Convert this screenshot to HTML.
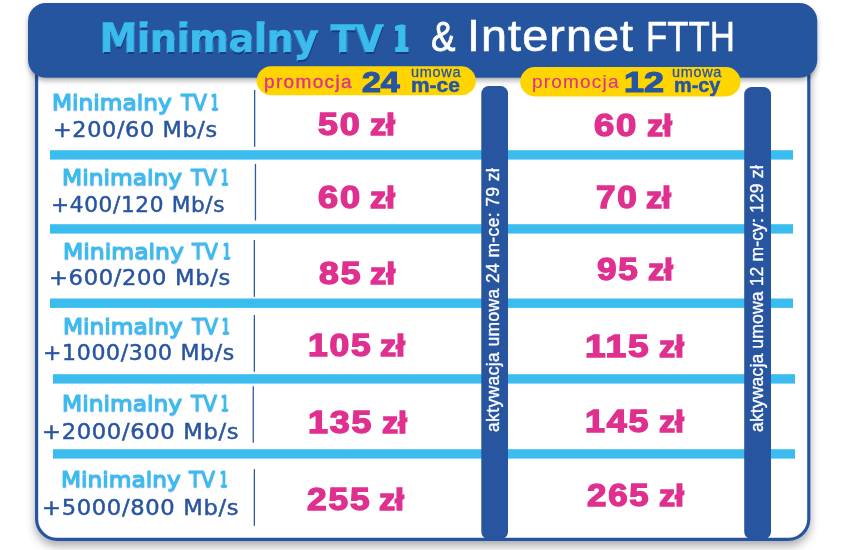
<!DOCTYPE html>
<html lang="pl">
<head>
<meta charset="utf-8">
<title>Minimalny TV 1 &amp; Internet FTTH</title>
<style>
*{margin:0;padding:0;box-sizing:border-box}
html,body{width:850px;height:550px;overflow:hidden;background:#fff}
body{position:relative;font-family:"Liberation Sans","DejaVu Sans",sans-serif}
.abs{position:absolute;display:block}
h1,b{font:inherit}
#bg{left:0;top:0;width:850px;height:550px;display:block}
.t{white-space:nowrap;line-height:1;transform-origin:0 0}
.t1{font-family:"DejaVu Sans","Liberation Sans",sans-serif;font-weight:bold;color:#3bbcee;text-shadow:0.5px 2px 0 #1c3b7a;-webkit-text-stroke:1.5px #3bbcee;paint-order:stroke fill}
.t2{color:#fff}
.pm{color:#e0308f}
.pn,.pu,.pb{color:#2855a0}
.pn{font-weight:bold;-webkit-text-stroke:1.2px #2855a0}
.pu{-webkit-text-stroke:.3px #2855a0}
.pb{font-weight:bold;-webkit-text-stroke:.5px #2855a0}
.l1{font-family:"DejaVu Sans","Liberation Sans",sans-serif;color:#3bbcee;-webkit-text-stroke:1.1px #3bbcee;text-shadow:0 .5px 1.5px rgba(120,90,210,.7)}
.l2{font-family:"DejaVu Sans","Liberation Sans",sans-serif;color:#2855a0;-webkit-text-stroke:.45px #2855a0}
.p{color:#e0308f;font-weight:bold;-webkit-text-stroke:1.4px #e0308f}
.vt{color:#fff;-webkit-text-stroke:.35px #fff}
</style>
</head>
<body>
<svg id="bg" class="abs" width="850" height="550" viewBox="0 0 850 550">
<defs><filter id="sh" x="-5%" y="-5%" width="110%" height="115%"><feDropShadow dx="0" dy="5" stdDeviation="5" flood-color="#000" flood-opacity=".33"/></filter><filter id="sh2" x="-5%" y="-20%" width="110%" height="160%"><feDropShadow dx="0" dy="3" stdDeviation="2.6" flood-color="#000" flood-opacity=".3"/></filter></defs>
<path filter="url(#sh)" fill="#fff" stroke="#2855a0" stroke-width="3.2" d="M36.6 40.0 V519.0 A20.4 20.4 0 0 0 57.0 539.4 H788.4 A20.4 20.4 0 0 0 808.8 519.0 V40.0 Z"/>
<rect x="28" y="3" width="789.3" height="74.8" rx="18" ry="18" fill="#2855a0" filter="url(#sh2)"/>
<rect x="256.7" y="66.35" width="219.1" height="28.95" rx="14.5" ry="14.5" fill="#ffd500" />
<rect x="520.2" y="67.1" width="220.3" height="29.3" rx="14.6" ry="14.6" fill="#ffd500" />
<rect x="50" y="150.2" width="743" height="9.4" rx="0" ry="0" fill="#3bbcee" />
<rect x="50" y="224.2" width="743" height="9.4" rx="0" ry="0" fill="#3bbcee" />
<rect x="50" y="298.5" width="743" height="9.4" rx="0" ry="0" fill="#3bbcee" />
<rect x="53" y="374.2" width="742" height="9.4" rx="0" ry="0" fill="#3bbcee" />
<rect x="53" y="449.2" width="742" height="9.4" rx="0" ry="0" fill="#3bbcee" />
<rect x="481.3" y="86" width="26.7" height="453.2" rx="7.5" ry="7.5" fill="#2855a0" />
<rect x="744.2" y="87" width="26.8" height="452.2" rx="7.5" ry="7.5" fill="#2855a0" />
<rect x="254.0" y="90" width="1.3" height="56.8" rx="0" ry="0" fill="#2f5aa4" />
<rect x="254.8" y="163.9" width="1.3" height="56.6" rx="0" ry="0" fill="#2f5aa4" />
<rect x="253.7" y="240" width="1.3" height="56.8" rx="0" ry="0" fill="#2f5aa4" />
<rect x="253.7" y="315" width="1.3" height="56.7" rx="0" ry="0" fill="#2f5aa4" />
<rect x="252.6" y="386.2" width="1.3" height="56.5" rx="0" ry="0" fill="#2f5aa4" />
<rect x="253.7" y="469.1" width="1.3" height="56.7" rx="0" ry="0" fill="#2f5aa4" />
</svg>
<h1 class="g"><span class="abs t t1" style="left:100.1px;top:19px;font-size:39px;transform:scaleX(0.9624);">Minimalny</span> <span class="abs t t1" style="left:330.95px;top:20px;font-size:38px;transform:scaleX(0.9454);">TV</span> <span class="abs t t1" style="left:395.0px;top:21px;font-size:37.5px;transform:scaleX(0.4913);-webkit-text-stroke-width:1px;text-shadow:-2px 0 #3bbcee,2px 0 #3bbcee,-4px 0 #3bbcee,4px 0 #3bbcee,-3.5px 2px 0 #1c3b7a,.5px 2px 0 #1c3b7a,4.5px 2px 0 #1c3b7a;">1</span> <span class="abs t t2" style="left:430.75px;top:15px;font-size:43px;transform:scaleX(0.8521);-webkit-text-stroke:.8px #fff;">&amp;</span> <span class="abs t t2" style="left:467.04px;top:15px;font-size:43.5px;transform:scaleX(1.0743);letter-spacing:1.0px;-webkit-text-stroke:.6px #fff;">Internet</span> <span class="abs t t2" style="left:645.87px;top:15px;font-size:43px;transform:scaleX(0.8106);-webkit-text-stroke:.5px #fff;">FTTH</span></h1>
<div class="g"><span class="abs t pm" style="left:264.4px;top:72px;font-size:19px;transform:scaleX(1.0001);letter-spacing:1.35px;-webkit-text-stroke:.4px #e0308f;">promocja</span> <span class="abs t pn" style="left:362.0px;top:68px;font-size:29px;transform:scaleX(1.1687);">24</span> <span class="abs t pu" style="left:410.88px;top:65px;font-size:14.5px;transform:scaleX(0.9989);letter-spacing:0.7px;">umowa</span> <span class="abs t pb" style="left:410.97px;top:75px;font-size:20.5px;transform:scaleX(1.0199);">m-ce</span></div>
<div class="g"><span class="abs t pm" style="left:532.21px;top:72px;font-size:19px;transform:scaleX(0.999);letter-spacing:1.2px;-webkit-text-stroke:.15px #e0308f;">promocja</span> <span class="abs t pn" style="left:624.02px;top:68px;font-size:29px;transform:scaleX(1.2369);">12</span> <span class="abs t pu" style="left:672.27px;top:65px;font-size:14.5px;transform:scaleX(0.997);letter-spacing:0.7px;">umowa</span> <span class="abs t pb" style="left:674.42px;top:75px;font-size:20.5px;transform:scaleX(0.9698);">m-cy</span></div>
<div class="g row"><span class="g"><span class="abs t l1" style="left:52.39px;top:92px;font-size:22px;transform:scaleX(1.0584);">Minimalny</span> <span class="abs t l1" style="left:181.11px;top:92px;font-size:22px;transform:scaleX(0.9077);">TV</span> <span class="abs t l1" style="left:211.29px;top:92px;font-size:22px;transform:scaleX(0.5348);-webkit-text-stroke-width:.9px;text-shadow:-1.5px 0 #3bbcee,1.5px 0 #3bbcee,0 .5px 1.5px rgba(120,90,210,.7);">1</span></span> <span class="abs t l2" style="left:53.07px;top:120px;font-size:20.5px;transform:scaleX(1.0887);letter-spacing:0.6px;">+200/60 Mb/s</span> <b class="g"><span class="abs t p" style="left:317.8px;top:109px;font-size:31px;transform:scaleX(1.1573);letter-spacing:1.6px;">50</span> <span class="abs t p" style="left:369.6px;top:110px;font-size:30px;transform:scaleX(1.0745);">zł</span></b> <b class="g"><span class="abs t p" style="left:594.21px;top:110px;font-size:31px;transform:scaleX(1.1734);letter-spacing:1.6px;">60</span> <span class="abs t p" style="left:646.6px;top:111px;font-size:30px;transform:scaleX(1.0745);">zł</span></b></div>
<div class="g row"><span class="g"><span class="abs t l1" style="left:62.16px;top:167px;font-size:22px;transform:scaleX(1.0614);">Minimalny</span> <span class="abs t l1" style="left:190.87px;top:167px;font-size:22px;transform:scaleX(0.909);">TV</span> <span class="abs t l1" style="left:221.38px;top:167px;font-size:22px;transform:scaleX(0.5374);-webkit-text-stroke-width:.9px;text-shadow:-1.5px 0 #3bbcee,1.5px 0 #3bbcee,0 .5px 1.5px rgba(120,90,210,.7);">1</span></span> <span class="abs t l2" style="left:50.54px;top:195px;font-size:20.5px;transform:scaleX(1.0561);letter-spacing:0.6px;">+400/120 Mb/s</span> <b class="g"><span class="abs t p" style="left:317.79px;top:182px;font-size:31px;transform:scaleX(1.165);letter-spacing:1.6px;">60</span> <span class="abs t p" style="left:369.6px;top:183px;font-size:30px;transform:scaleX(1.0745);">zł</span></b> <b class="g"><span class="abs t p" style="left:596.13px;top:182px;font-size:31px;transform:scaleX(1.1318);letter-spacing:1.6px;">70</span> <span class="abs t p" style="left:646.4px;top:183px;font-size:30px;transform:scaleX(1.0745);">zł</span></b></div>
<div class="g row"><span class="g"><span class="abs t l1" style="left:62.94px;top:241px;font-size:22px;transform:scaleX(1.0685);">Minimalny</span> <span class="abs t l1" style="left:192.0px;top:241px;font-size:22px;transform:scaleX(0.9057);">TV</span> <span class="abs t l1" style="left:223.25px;top:241px;font-size:22px;transform:scaleX(0.5404);-webkit-text-stroke-width:.9px;text-shadow:-1.5px 0 #3bbcee,1.5px 0 #3bbcee,0 .5px 1.5px rgba(120,90,210,.7);">1</span></span> <span class="abs t l2" style="left:49.46px;top:268px;font-size:20.5px;transform:scaleX(1.1027);letter-spacing:0.6px;">+600/200 Mb/s</span> <b class="g"><span class="abs t p" style="left:318.8px;top:258px;font-size:31px;transform:scaleX(1.1507);letter-spacing:1.6px;">85</span> <span class="abs t p" style="left:369.95px;top:259px;font-size:30px;transform:scaleX(1.0813);">zł</span></b> <b class="g"><span class="abs t p" style="left:597.2px;top:254px;font-size:31px;transform:scaleX(1.1309);letter-spacing:1.6px;">95</span> <span class="abs t p" style="left:648.0px;top:255px;font-size:30px;transform:scaleX(1.0745);">zł</span></b></div>
<div class="g row"><span class="g"><span class="abs t l1" style="left:62.98px;top:316px;font-size:22px;transform:scaleX(1.0585);">Minimalny</span> <span class="abs t l1" style="left:192.31px;top:316px;font-size:22px;transform:scaleX(0.9105);">TV</span> <span class="abs t l1" style="left:221.66px;top:316px;font-size:22px;transform:scaleX(0.5354);-webkit-text-stroke-width:.9px;text-shadow:-1.5px 0 #3bbcee,1.5px 0 #3bbcee,0 .5px 1.5px rgba(120,90,210,.7);">1</span></span> <span class="abs t l2" style="left:42.5px;top:343px;font-size:20.5px;transform:scaleX(1.0743);letter-spacing:0.6px;">+1000/300 Mb/s</span> <b class="g"><span class="abs t p" style="left:308.26px;top:330px;font-size:31px;transform:scaleX(1.1433);letter-spacing:1.6px;">105</span> <span class="abs t p" style="left:380.4px;top:331px;font-size:30px;transform:scaleX(1.0745);">zł</span></b> <b class="g"><span class="abs t p" style="left:584.86px;top:331px;font-size:31px;transform:scaleX(1.1986);letter-spacing:1.6px;">115</span> <span class="abs t p" style="left:658.6px;top:332px;font-size:30px;transform:scaleX(1.0745);">zł</span></b></div>
<div class="g row"><span class="g"><span class="abs t l1" style="left:62.16px;top:393px;font-size:22px;transform:scaleX(1.0614);">Minimalny</span> <span class="abs t l1" style="left:190.87px;top:393px;font-size:22px;transform:scaleX(0.909);">TV</span> <span class="abs t l1" style="left:221.38px;top:393px;font-size:22px;transform:scaleX(0.5374);-webkit-text-stroke-width:.9px;text-shadow:-1.5px 0 #3bbcee,1.5px 0 #3bbcee,0 .5px 1.5px rgba(120,90,210,.7);">1</span></span> <span class="abs t l2" style="left:42.44px;top:422px;font-size:20.5px;transform:scaleX(1.1043);letter-spacing:0.6px;">+2000/600 Mb/s</span> <b class="g"><span class="abs t p" style="left:308.24px;top:407px;font-size:31px;transform:scaleX(1.1575);letter-spacing:1.6px;">135</span> <span class="abs t p" style="left:381.8px;top:408px;font-size:30px;transform:scaleX(1.0745);">zł</span></b> <b class="g"><span class="abs t p" style="left:585.44px;top:406px;font-size:31px;transform:scaleX(1.1575);letter-spacing:1.6px;">145</span> <span class="abs t p" style="left:659.0px;top:407px;font-size:30px;transform:scaleX(1.0745);">zł</span></b></div>
<div class="g row"><span class="g"><span class="abs t l1" style="left:60.98px;top:469px;font-size:22px;transform:scaleX(1.0585);">Minimalny</span> <span class="abs t l1" style="left:189.31px;top:469px;font-size:22px;transform:scaleX(0.9105);">TV</span> <span class="abs t l1" style="left:219.66px;top:469px;font-size:22px;transform:scaleX(0.5354);-webkit-text-stroke-width:.9px;text-shadow:-1.5px 0 #3bbcee,1.5px 0 #3bbcee,0 .5px 1.5px rgba(120,90,210,.7);">1</span></span> <span class="abs t l2" style="left:42.44px;top:498px;font-size:20.5px;transform:scaleX(1.1043);letter-spacing:0.6px;">+5000/800 Mb/s</span> <b class="g"><span class="abs t p" style="left:306.6px;top:484px;font-size:31px;transform:scaleX(1.1411);letter-spacing:1.6px;">255</span> <span class="abs t p" style="left:379.0px;top:485px;font-size:30px;transform:scaleX(1.0745);">zł</span></b> <b class="g"><span class="abs t p" style="left:586.6px;top:480px;font-size:31px;transform:scaleX(1.1238);letter-spacing:1.6px;">265</span> <span class="abs t p" style="left:658.6px;top:481px;font-size:30px;transform:scaleX(1.0745);">zł</span></b></div>
<div class="g"><span class="abs t vt" style="left:484.60px;top:432.08px;font-size:17.5px;transform:rotate(-90deg) scaleX(0.997);letter-spacing:0.4px;">aktywacja umowa 24 m-ce: 79 zł</span></div>
<div class="g"><span class="abs t vt" style="left:749.00px;top:432.12px;font-size:17.5px;transform:rotate(-90deg) scaleX(1.0018);letter-spacing:0.15px;">aktywacja umowa 12 m-cy: 129 zł</span></div>
</body>
</html>
